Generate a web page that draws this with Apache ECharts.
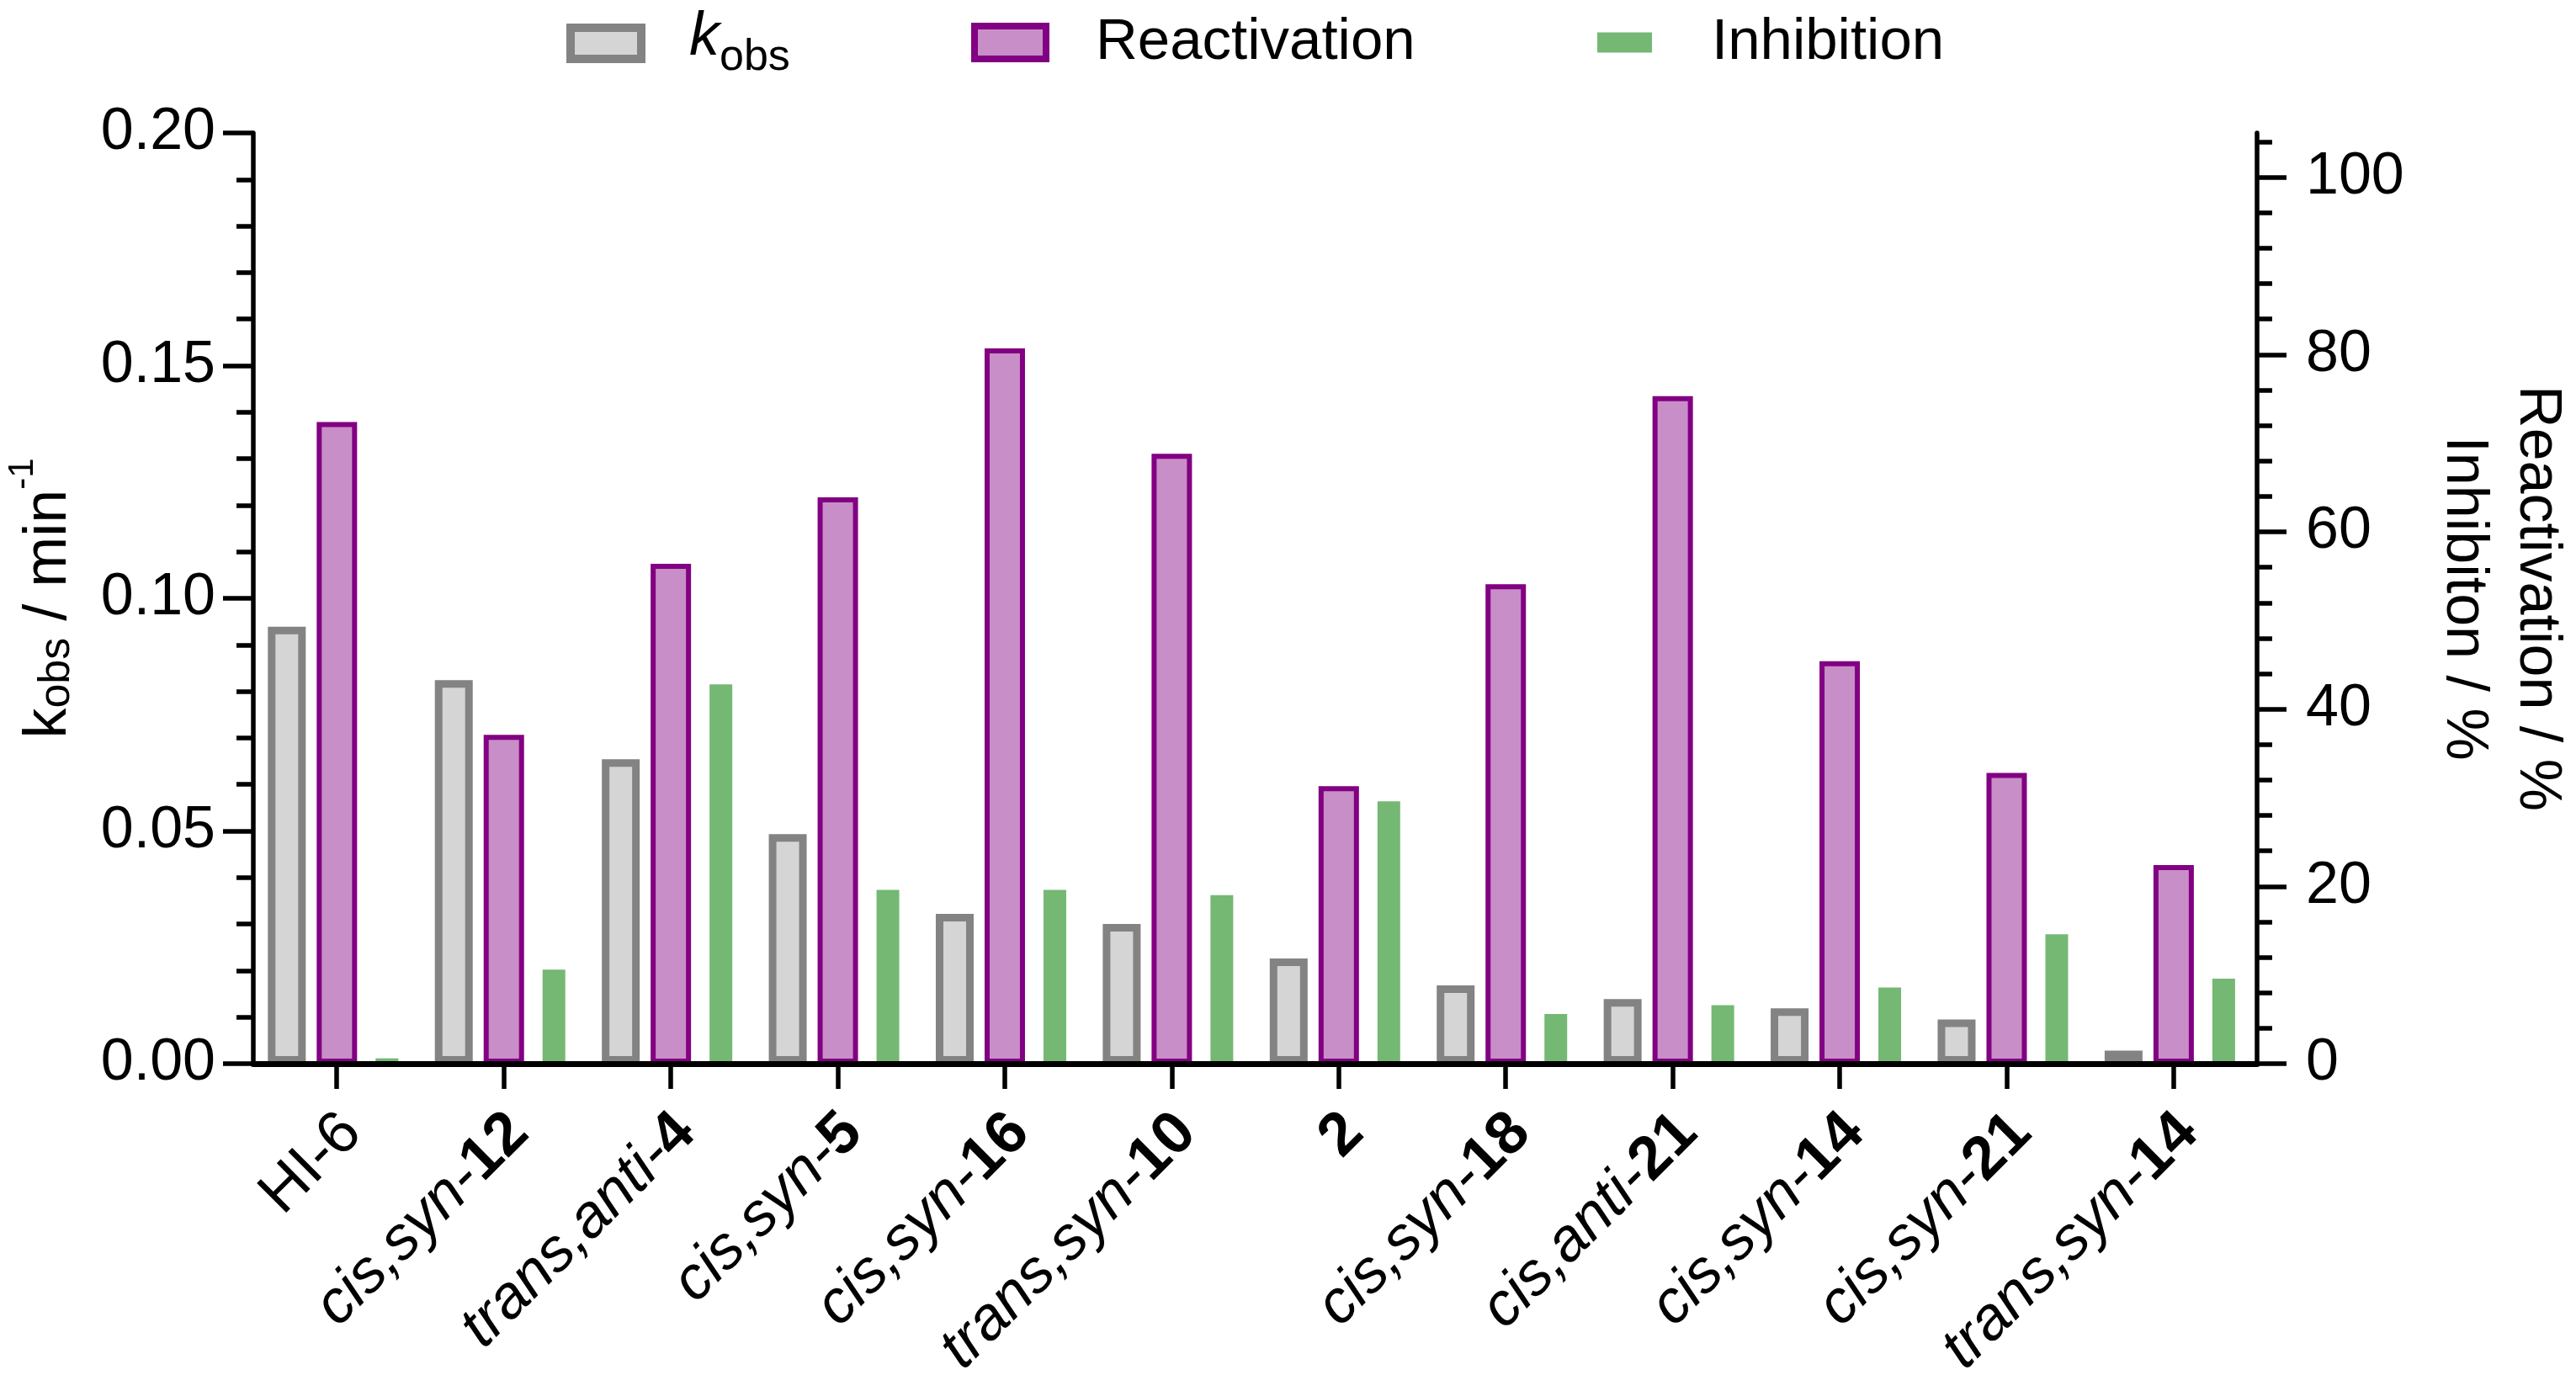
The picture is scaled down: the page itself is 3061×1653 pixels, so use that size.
<!DOCTYPE html>
<html><head><meta charset="utf-8">
<script src="https://cdn.jsdelivr.net/npm/echarts/dist/echarts.min.js"></script>
<style>html,body{margin:0;padding:0;background:#fff}#c{width:3061px;height:1653px}</style>
</head><body><div id="c"></div>
<script>
const categories = ['HI-6', 'cis,syn-12', 'trans,anti-4', 'cis,syn-5', 'cis,syn-16', 'trans,syn-10', '2', 'cis,syn-18', 'cis,anti-21', 'cis,syn-14', 'cis,syn-21', 'trans,syn-14'];
const kobs = [0.0939, 0.0824, 0.0654, 0.0493, 0.0322, 0.0300, 0.0226, 0.0168, 0.0139, 0.0119, 0.0095, 0.0028];
const reactivation = [72.4, 37.1, 56.4, 63.9, 80.7, 68.8, 31.3, 54.1, 75.3, 45.4, 32.8, 22.4];
const inhibition = [0.6, 10.6, 42.8, 19.6, 19.6, 19.0, 29.6, 5.6, 6.6, 8.6, 14.6, 9.6];
const rightMajorTicks = [0, 20, 40, 60, 80, 100];
const rightMinorTicks = [4, 8, 12, 16, 24, 28, 32, 36, 44, 48, 52, 56, 64, 68, 72, 76, 84, 88, 92, 96, 104];

const FF = "'Liberation Sans', Arial, Helvetica, sans-serif";
const C_K_FILL = '#d5d5d5', C_K_BORDER = '#838383';
const C_R_FILL = '#c88ec7', C_R_BORDER = '#820082';
const C_I = '#74b874';
const GAP = '28.9%';

function catLabel(name) {
  if (name.indexOf(',') >= 0) {
    const i = name.lastIndexOf('-');
    return '{i|' + name.slice(0, i + 1) + '}{b|' + name.slice(i + 1) + '}';
  }
  if (/^\d+$/.test(name)) return '{b|' + name + '}';
  return '{n|' + name + '}';
}

const chart = echarts.init(document.getElementById('c'), null, {renderer: 'canvas'});
const tickLine = {color: '#000', width: 5.5};
const LAB_LH = 51;
chart.setOption({
  animation: false,
  backgroundColor: '#fff',
  grid: {left: 301, top: 158, width: 2381, height: 1106, containLabel: false, outerBoundsMode: 'none'},
  legend: [
    {
      data: [{name: 'kobs'}], left: 673, top: 8.5, padding: 0, icon: 'rect',
      itemWidth: 84, itemHeight: 37, selectedMode: false,
      itemStyle: {color: C_K_FILL, borderColor: C_K_BORDER, borderWidth: 10},
      formatter: function () { return '{k|k}{s|obs}'; },
      textStyle: {
        color: '#000', fontFamily: FF, fontSize: 72, padding: [0, 0, 0, 52],
        rich: {
          k: {fontFamily: FF, fontStyle: 'italic', fontSize: 72, lineHeight: 86, verticalAlign: 'top', color: '#000'},
          s: {fontFamily: FF, fontSize: 52, lineHeight: 86, verticalAlign: 'bottom', color: '#000'}
        }
      }
    },
    {
      data: [{name: 'Reactivation'}], left: 1154, top: 16, padding: 0, icon: 'rect',
      itemWidth: 85, itemHeight: 39, selectedMode: false,
      itemStyle: {color: C_R_FILL, borderColor: C_R_BORDER, borderWidth: 8},
      textStyle: {color: '#000', fontFamily: FF, fontSize: 69, lineHeight: 69, padding: [0, 0, 0, 54]}
    },
    {
      data: [{name: 'Inhibition'}], left: 1898, top: 16, padding: 0, icon: 'rect',
      itemWidth: 65, itemHeight: 24, selectedMode: false,
      itemStyle: {color: C_I, borderWidth: 0},
      textStyle: {color: '#000', fontFamily: FF, fontSize: 69, lineHeight: 69, padding: [0, 0, 0, 66]}
    }
  ],
  xAxis: {
    type: 'category', data: categories, boundaryGap: true, z: 5,
    axisLine: {show: true, onZero: false, lineStyle: {color: '#000', width: 7}},
    axisTick: {show: true, alignWithLabel: true, length: 30, lineStyle: tickLine},
    splitLine: {show: false},
    axisLabel: {
      interval: 0, rotate: 45, margin: 53, verticalAlign: 'top', color: '#000',
      fontFamily: FF, fontSize: 72, lineHeight: LAB_LH,
      formatter: catLabel,
      rich: {
        i: {fontFamily: FF, fontStyle: 'italic', fontSize: 72, lineHeight: LAB_LH, color: '#000'},
        b: {fontFamily: FF, fontWeight: 'bold', fontSize: 72, lineHeight: LAB_LH, color: '#000'},
        n: {fontFamily: FF, fontSize: 72, lineHeight: LAB_LH, color: '#000'}
      }
    }
  },
  yAxis: [
    {
      type: 'value', position: 'left', min: 0, max: 0.2, interval: 0.05,
      axisLine: {show: true, onZero: false, lineStyle: {color: '#000', width: 5.5}},
      axisTick: {show: true, length: 36, lineStyle: tickLine},
      minorTick: {show: true, splitNumber: 5, length: 20, lineStyle: tickLine},
      splitLine: {show: false}, minorSplitLine: {show: false},
      axisLabel: {margin: 45, fontSize: 70, fontFamily: FF, color: '#000', formatter: function (v) { return v.toFixed(2); }},
      name: '{k|k}{s|obs}{n| / min}{p|-1}', nameLocation: 'middle', nameRotate: 90, nameGap: 207,
      nameTextStyle: {
        color: '#000', fontFamily: FF, fontSize: 72,
        rich: {
          k: {fontFamily: FF, fontSize: 72, lineHeight: 88, verticalAlign: 'bottom', color: '#000'},
          s: {fontFamily: FF, fontSize: 52, lineHeight: 72, verticalAlign: 'bottom', color: '#000'},
          n: {fontFamily: FF, fontSize: 72, lineHeight: 88, verticalAlign: 'bottom', color: '#000'},
          p: {fontFamily: FF, fontSize: 42, lineHeight: 24, verticalAlign: 'top', color: '#000'}
        }
      }
    },
    {
      type: 'value', position: 'right', min: 0, max: 105,
      axisLine: {show: true, onZero: false, lineStyle: {color: '#000', width: 5.5}},
      axisTick: {show: true, length: 35, lineStyle: tickLine, customValues: rightMajorTicks},
      splitLine: {show: false},
      axisLabel: {margin: 58, fontSize: 70, fontFamily: FF, color: '#000', customValues: rightMajorTicks},
      name: 'Reactivation / %\nInhibiton / %', nameLocation: 'middle', nameRotate: -90, nameGap: 202,
      nameTextStyle: {color: '#000', fontFamily: FF, fontSize: 70, lineHeight: 87}
    },
    {
      type: 'value', position: 'right', min: 0, max: 105,
      axisLine: {show: false},
      axisTick: {show: true, length: 18, lineStyle: tickLine, customValues: rightMinorTicks},
      axisLabel: {show: false},
      splitLine: {show: false}
    }
  ],
  series: [
    {name: 'kobs', type: 'bar', xAxisIndex: 0, yAxisIndex: 0, data: kobs, barWidth: 45, barGap: GAP,
     itemStyle: {color: C_K_FILL, borderColor: C_K_BORDER, borderWidth: 9}},
    {name: 'Reactivation', type: 'bar', xAxisIndex: 0, yAxisIndex: 1, data: reactivation, barWidth: 48, barGap: GAP,
     itemStyle: {color: C_R_FILL, borderColor: C_R_BORDER, borderWidth: 6}},
    {name: '_gapA', type: 'bar', xAxisIndex: 0, yAxisIndex: 1, data: [], barWidth: 6.3, barGap: GAP},
    {name: 'Inhibition', type: 'bar', xAxisIndex: 0, yAxisIndex: 1, data: inhibition, barWidth: 27, barGap: GAP,
     itemStyle: {color: C_I}},
    {name: '_gapB', type: 'bar', xAxisIndex: 0, yAxisIndex: 1, data: [], barWidth: 0.01, barGap: GAP}
  ]
});
</script>
</body></html>
